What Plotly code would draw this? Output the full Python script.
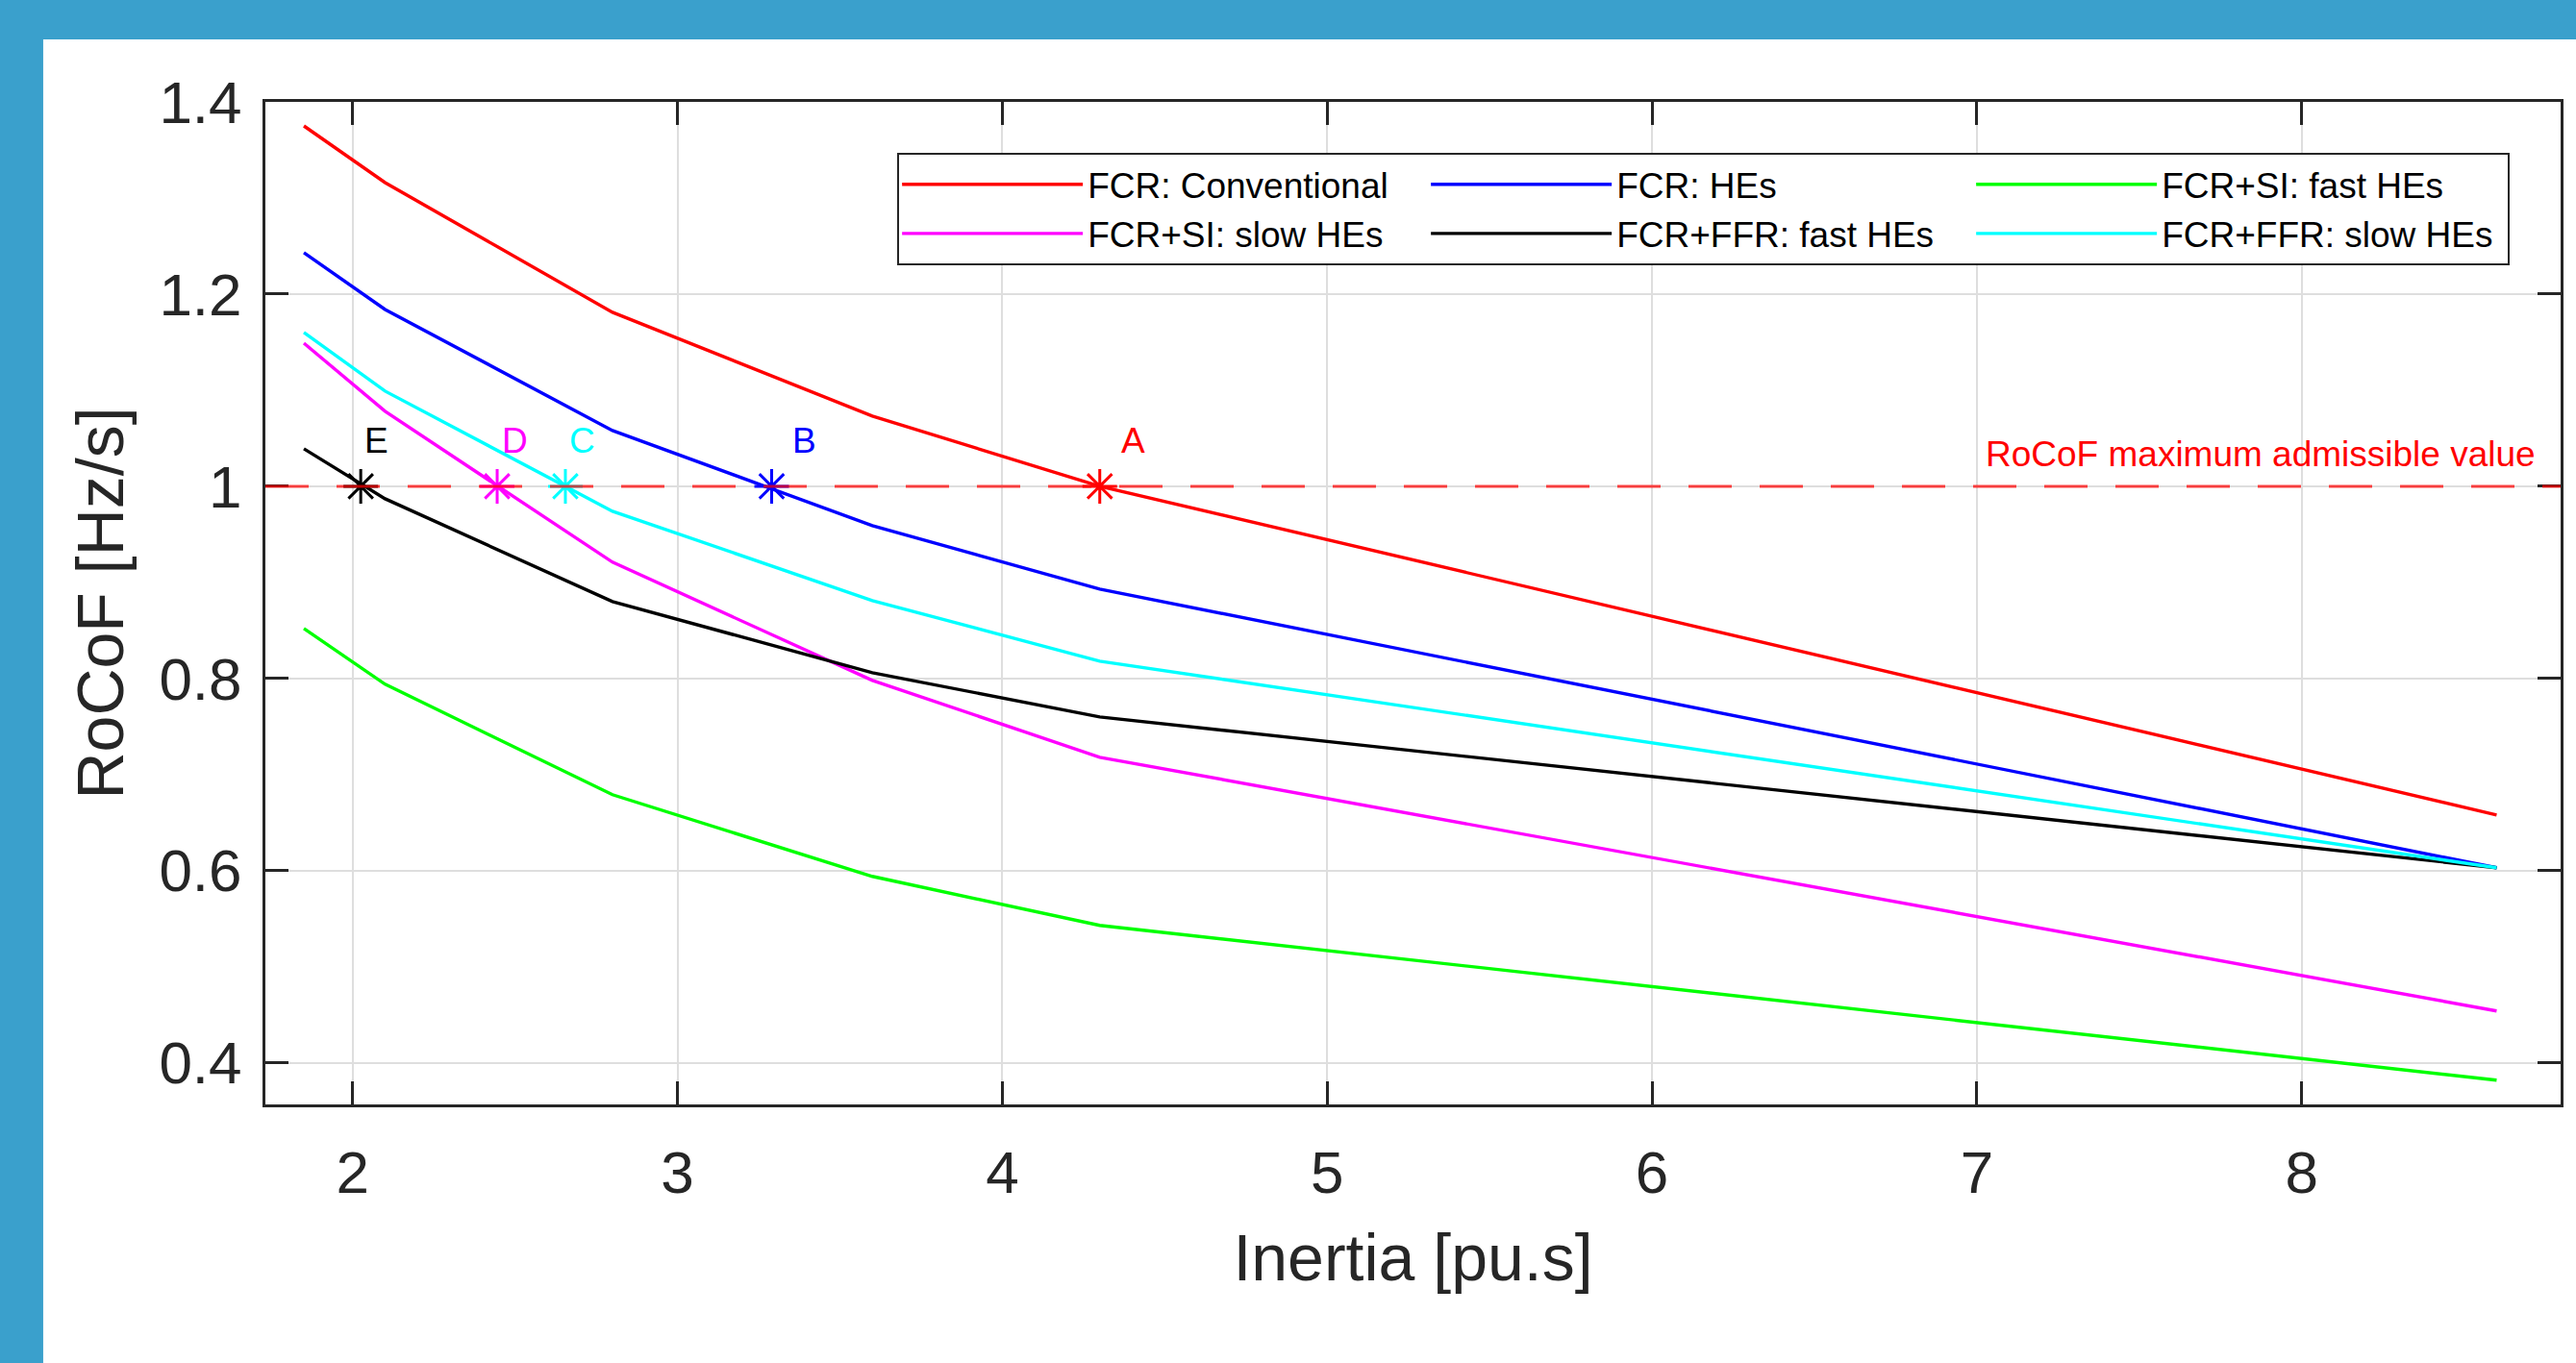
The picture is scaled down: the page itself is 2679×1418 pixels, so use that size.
import plotly.graph_objects as go

# ---------------- data ----------------
inertia = [1.85, 2.1, 2.8, 3.6, 4.3, 8.6]

fcr_conventional = [1.375, 1.316, 1.181, 1.073, 1.000, 0.658]
fcr_hes = [1.243, 1.184, 1.058, 0.959, 0.893, 0.603]
fcr_si_fast = [0.852, 0.794, 0.679, 0.594, 0.543, 0.382]
fcr_si_slow = [1.149, 1.078, 0.921, 0.798, 0.718, 0.454]
fcr_ffr_fast = [1.039, 0.987, 0.880, 0.806, 0.760, 0.603]
fcr_ffr_slow = [1.160, 1.099, 0.974, 0.881, 0.818, 0.603]

series_names = ["FCR: Conventional", "FCR: HEs", "FCR+SI: fast HEs",
                "FCR+SI: slow HEs", "FCR+FFR: fast HEs", "FCR+FFR: slow HEs"]
series_values = [fcr_conventional, fcr_hes, fcr_si_fast,
                 fcr_si_slow, fcr_ffr_fast, fcr_ffr_slow]

rocof_max = 1.0
rocof_label = "RoCoF maximum admissible value"

point_labels = ["A", "B", "C", "D", "E"]
point_inertia = [4.3, 3.29, 2.655, 2.445, 2.025]
point_rocof = [1.0, 1.0, 1.0, 1.0, 1.0]

x_tick_vals = [2, 3, 4, 5, 6, 7, 8]
y_tick_vals = [0.4, 0.6, 0.8, 1.0, 1.2, 1.4]
y_tick_text = ["0.4", "0.6", "0.8", "1", "1.2", "1.4"]

# ---------------- styles ----------------
series_colors = ["#ff0000", "#0000ff", "#00ff00", "#ff00ff", "#000000", "#00ffff"]
legend_groups = ["c1", "c2", "c3", "c1", "c2", "c3"]
legend_widths = [347, 364, 355, 347, 364, 355]
point_colors = ["#ff0000", "#0000ff", "#00ffff", "#ff00ff", "#000000"]
label_xshift = [20, 19, 2, 3, 2]

FONT = "Liberation Sans, Arial, Helvetica, sans-serif"
AXIS_COLOR = "#262626"
GRID_COLOR = "#dedede"

fig = go.Figure()

for name, vals, col, grp, lw in zip(series_names, series_values, series_colors,
                                    legend_groups, legend_widths):
    fig.add_trace(go.Scatter(
        x=inertia, y=vals, mode="lines", name=name,
        line=dict(color=col, width=3.4),
        legendgroup=grp, legendwidth=lw,
    ))

fig.add_trace(go.Scatter(
    x=point_inertia, y=point_rocof, mode="markers", showlegend=False,
    marker=dict(symbol="asterisk-open", size=30, color=point_colors,
                line=dict(width=3, color=point_colors)),
    hoverinfo="skip",
))

fig.add_hline(y=rocof_max, line=dict(color="rgba(255,0,0,0.72)", width=3,
                                     dash="45px,29px"))

fig.add_annotation(
    x=0.990, xref="paper", y=rocof_max, yref="y",
    xanchor="right", yanchor="bottom", yshift=11,
    text=rocof_label, showarrow=False,
    font=dict(family=FONT, size=37, color="#ff0000"),
)

for lab, px, py, col, xs in zip(point_labels, point_inertia, point_rocof,
                                point_colors, label_xshift):
    fig.add_annotation(
        x=px, y=py, xref="x", yref="y", text=lab, showarrow=False,
        xanchor="left", yanchor="middle", xshift=xs, yshift=47,
        font=dict(family=FONT, size=37, color=col),
    )

# white panel on the blue page
fig.add_shape(type="rect", xref="paper", yref="paper",
              x0=-0.0968, x1=1.01, y0=-0.26, y1=1.0623,
              fillcolor="white", line=dict(width=0), layer="below")

axis_common = dict(
    showline=True, linecolor=AXIS_COLOR, linewidth=3, mirror="allticks",
    ticks="inside", ticklen=24, tickwidth=3, tickcolor=AXIS_COLOR,
    showgrid=True, gridcolor=GRID_COLOR, gridwidth=2, zeroline=False,
    tickfont=dict(family=FONT, size=62, color=AXIS_COLOR),
)

fig.update_xaxes(
    range=[1.7315, 8.797], tickvals=x_tick_vals,
    title=dict(text="Inertia [pu.s]", font=dict(family=FONT, size=68, color=AXIS_COLOR),
               standoff=31),
    ticklabelstandoff=15,
    **axis_common,
)
fig.update_yaxes(
    range=[0.3567, 1.4], tickvals=y_tick_vals, ticktext=y_tick_text,
    title=dict(text="RoCoF [Hz/s]", font=dict(family=FONT, size=68, color=AXIS_COLOR),
               standoff=15),
    ticklabelstandoff=9,
    **axis_common,
)

fig.update_layout(
    width=2679, height=1418,
    margin=dict(l=276, r=16, t=106, b=269, autoexpand=False),
    paper_bgcolor="#3aa0cc", plot_bgcolor="white",
    font=dict(family=FONT, color=AXIS_COLOR),
    showlegend=True,
    legend=dict(
        orientation="h", traceorder="grouped", groupclick="toggleitem",
        x=0.2753, y=0.949, xanchor="left", yanchor="top",
        bgcolor="white", bordercolor=AXIS_COLOR, borderwidth=2,
        itemwidth=188,
        font=dict(family=FONT, size=37, color="#000000"),
    ),
)

fig.write_html("out.html",
               config={"displayModeBar": False},
               post_script="document.body.style.margin='0';"
                           "document.body.style.background='#3aa0cc';")
